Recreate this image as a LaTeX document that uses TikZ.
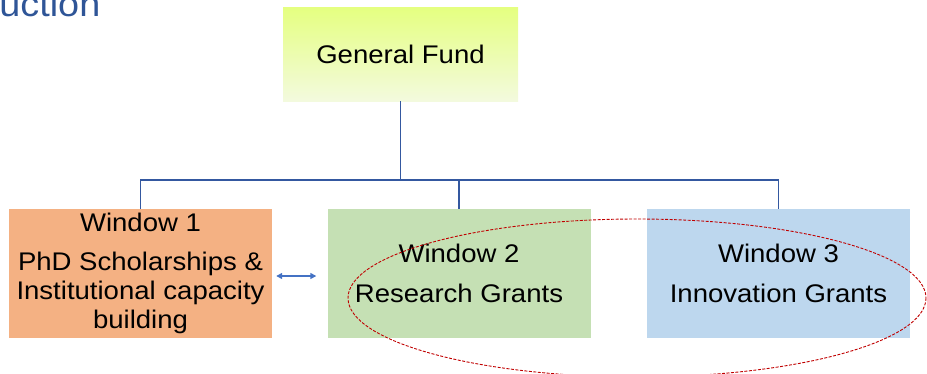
\documentclass[tikz,border=0pt]{standalone}
\usepackage{fontspec}
\setmainfont{Liberation Sans}[FakeStretch=1.08]
\usetikzlibrary{arrows.meta}
\definecolor{linec}{RGB}{52,88,160}
\definecolor{arrowc}{RGB}{68,114,196}
\definecolor{titlec}{RGB}{47,85,151}
\definecolor{ellc}{RGB}{192,0,0}
\definecolor{gftop}{RGB}{229,255,128}
\definecolor{gfbot}{RGB}{243,250,222}
\definecolor{wone}{RGB}{244,177,131}
\definecolor{wtwo}{RGB}{197,224,180}
\definecolor{wthree}{RGB}{189,215,238}
\tikzset{
  boxstyle/.style={rectangle, inner sep=0pt, minimum width=263pt, minimum height=129pt,
    align=center, text=black, font=\fontsize{25.5}{29}\selectfont},
  connector/.style={draw=linec, line width=1.1pt},
  biarrow/.style={draw=arrowc, line width=1.4pt, {Triangle[length=6pt,width=6pt]}-{Triangle[length=6pt,width=6pt]}},
  ellstyle/.style={draw=ellc, line width=0.9pt, dash pattern=on 3pt off 1.5pt}
}
\begin{document}
\begin{tikzpicture}[x=1pt,y=-1pt]
\useasboundingbox (0,0) rectangle (927,373);
\node[anchor=base east, text=titlec, font=\fontsize{35}{40}\selectfont, inner sep=0pt] (title) at (100.5,16) {uction};
\node[boxstyle, minimum width=235pt, minimum height=94pt, top color=gftop, bottom color=gfbot, font=\fontsize{25.5}{29}\selectfont] (gf) at (400.5,54) {General Fund};
\node[boxstyle, fill=wone] (w1) at (140.5,273.5) {Window 1\\[10pt]PhD Scholarships \&\\Institutional capacity\\building};
\node[boxstyle, fill=wtwo] (w2) at (459,273.5) {Window 2\\[11pt]Research Grants};
\node[boxstyle, fill=wthree] (w3) at (778.5,273.5) {Window 3\\[11pt]Innovation Grants};
\coordinate (bus) at (400.5,180);
\draw[connector, line width=1.8pt] (gf.south) -- (bus);
\draw[connector] (w1.north) -- (w1.north |- bus) -- (w3.north |- bus) -- (w3.north);
\draw[connector] (w2.north) -- (w2.north |- bus);
\draw[biarrow] ([xshift=4pt,yshift=-2.5pt]w1.east) -- ([xshift=-11pt,yshift=-2.5pt]w2.west);
\draw[ellstyle] (637,298) ellipse [x radius=289, y radius=79];
\end{tikzpicture}
\end{document}
